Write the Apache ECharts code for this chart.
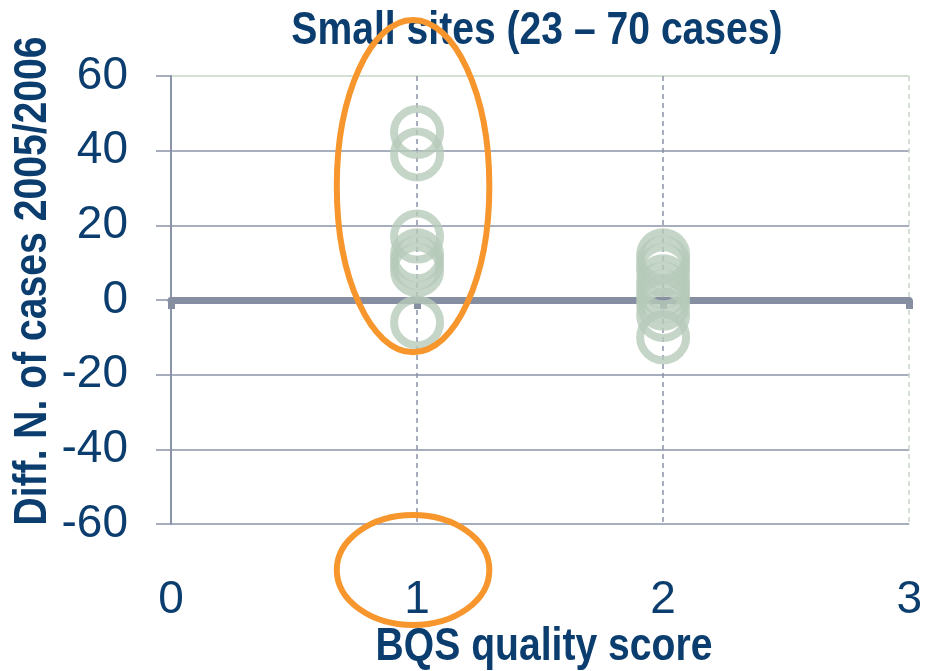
<!DOCTYPE html>
<html>
<head>
<meta charset="utf-8">
<script src="https://cdn.jsdelivr.net/npm/echarts@6/dist/echarts.min.js"></script>
<style>
  html, body { margin: 0; padding: 0; background: #fff; }
  #chart { width: 925px; height: 671px; }
</style>
</head>
<body>
<div id="chart"></div>
<script>
// values
const scoreOneDiffs = [45, 39, 17, 12, 10, 8, -6]
const scoreTwoDiffs = [12, 10, 8, 5, 3, 1, -1, -4, -10]
const xTicks = [0, 1, 2, 3]
const yTicks = [-60, -40, -20, 0, 20, 40, 60]

const titleText = 'Small sites (23 – 70 cases)'
const xName = 'BQS quality score'
const yName = 'Diff. N. of cases 2005/2006'

const navy = '#0b3d6e'
const gridGrey = '#8a93a8'
const gridGreen = '#c6d6c6'
const ringGreen = '#b6cbba'
const orange = '#f7962d'
// no narrow font installed, so squeeze Arial-metric bold text instead
const narrowFont = 'bold 46px "Liberation Sans", Arial, sans-serif'
const squeeze = 0.85

const mChart = echarts.init(document.getElementById('chart'))

const toPoints = (score, list) => list.map((v) => [score, v])

const ringSeries = (score, list) => ({
    type: 'scatter',
    data: toPoints(score, list),
    symbol: 'circle',
    symbolSize: 46,
    itemStyle: { color: 'rgba(0,0,0,0)', borderColor: ringGreen, borderWidth: 8 },
    z: 3
})

const options = {
    animation: false,
    grid: { left: 171, right: 13, top: 76, bottom: 147 },
    xAxis: [
        {
            // bottom labels + vertical dashed lines
            type: 'value',
            min: xTicks[0],
            max: xTicks[xTicks.length - 1],
            interval: 1,
            position: 'bottom',
            axisLine: { show: false, onZero: false },
            axisTick: { show: false },
            axisLabel: { fontFamily: '"Liberation Sans", Arial', fontSize: 46, color: navy, margin: 53 },
            splitLine: {
                show: true,
                lineStyle: { type: [5, 4], width: 1.5, color: [gridGrey, gridGrey, gridGrey, gridGreen] }
            }
        },
        {
            // thick zero line
            type: 'value',
            min: xTicks[0],
            max: xTicks[xTicks.length - 1],
            interval: 1,
            position: 'bottom',
            axisLine: { show: true, onZero: true, lineStyle: { color: '#868ea2', width: 7 } },
            axisTick: { show: true, length: 9, lineStyle: { color: '#868ea2', width: 7 } },
            axisLabel: { show: false },
            splitLine: { show: false }
        }
    ],
    yAxis: {
        type: 'value',
        min: yTicks[0],
        max: yTicks[yTicks.length - 1],
        interval: 20,
        axisLine: { show: true, onZero: false, lineStyle: { color: gridGrey, width: 2 } },
        axisTick: { show: true, length: 15, lineStyle: { color: gridGrey, width: 1.5 } },
        axisLabel: { fontFamily: '"Liberation Sans", Arial', fontSize: 46, color: navy, margin: 43 },
        splitLine: {
            show: true,
            lineStyle: { width: 1.5, color: [gridGrey, gridGrey, gridGrey, gridGrey, gridGrey, gridGrey, gridGreen] }
        }
    },
    series: [ringSeries(1, scoreOneDiffs), ringSeries(2, scoreTwoDiffs)]
}

mChart.setOption(options)

// orange highlight ellipses, placed from the axis scales
const top1 = mChart.convertToPixel({ gridIndex: 0 }, [1, 75])
const bot1 = mChart.convertToPixel({ gridIndex: 0 }, [1, -14])
const right1 = mChart.convertToPixel({ gridIndex: 0 }, [1.31, 0])
const base = mChart.convertToPixel({ gridIndex: 0 }, [1, -60])
const cx = top1[0] - 4
const rx = right1[0] - top1[0]

const label = (text, x, y, rotation) => ({
    type: 'text',
    x: x,
    y: y,
    rotation: rotation || 0,
    scaleX: squeeze,
    z: 50,
    style: { text: text, font: narrowFont, fill: navy, align: 'center', verticalAlign: 'middle' }
})

mChart.setOption({
    graphic: [
        label(titleText, 537, 31),
        label(xName, 544, 647),
        label(yName, 33, 281, Math.PI / 2),
        {
            type: 'ellipse',
            z: 100,
            shape: { cx: cx, cy: (top1[1] + bot1[1]) / 2, rx: rx, ry: (bot1[1] - top1[1]) / 2 },
            style: { fill: null, stroke: orange, lineWidth: 6 }
        },
        {
            type: 'ellipse',
            z: 100,
            shape: { cx: cx, cy: base[1] + 46, rx: rx, ry: 55 },
            style: { fill: null, stroke: orange, lineWidth: 6 }
        }
    ]
})
</script>
</body>
</html>
